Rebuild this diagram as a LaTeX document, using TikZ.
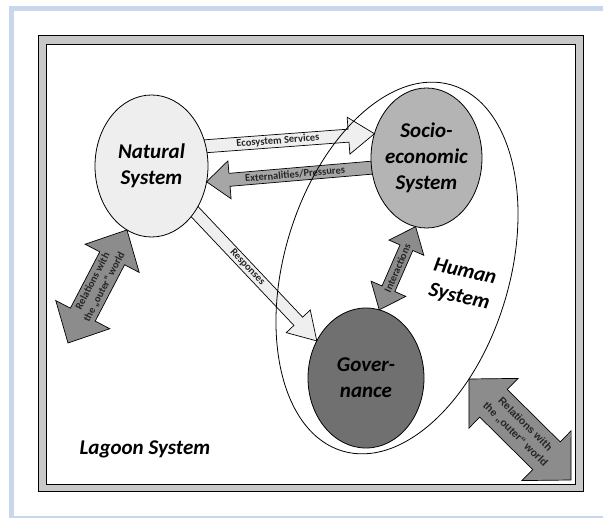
\documentclass[tikz,border=0pt]{standalone}
\usepackage{fontspec}
\setmainfont{Carlito}
\newfontfamily\arialfam{Liberation Sans}
\usepackage{tikz}
\usetikzlibrary{shapes.geometric}
\usetikzlibrary{calc}
\usepackage{xcolor}

\definecolor{pageblue}{HTML}{C8D6EE}
\definecolor{framegray}{HTML}{C8C8C8}
\definecolor{natfill}{HTML}{EEEEEE}
\definecolor{socfill}{HTML}{B4B4B4}
\definecolor{govfill}{HTML}{707070}
\definecolor{lightarr}{HTML}{EFEFEF}
\definecolor{midarr}{HTML}{A6A6A6}
\definecolor{darkarr}{HTML}{8C8C8C}

\pgfdeclarelayer{frame}
\pgfdeclarelayer{arrows}
\pgfsetlayers{frame,arrows,main}

% block arrow: style, tail, tip, body half width, head half width, head length, label options, label
\newcommand{\onewayarrow}[8]{%
	\path #2 coordinate (ta) #3 coordinate (tb);
	\path ($(tb)!#6!(ta)$) coordinate (th);
	\draw[#1] ($(ta)!#4!90:(tb)$) -- ($(th)!#4!-90:(ta)$) -- ($(th)!#5!-90:(ta)$) -- (tb)
		-- ($(th)!#5!90:(ta)$) -- ($(th)!#4!90:(ta)$) -- ($(ta)!#4!-90:(tb)$) -- cycle;
	\path (ta) -- (tb) node[sloped,#7] {#8};
}
% block arrow with two heads
\newcommand{\twowayarrow}[8]{%
	\path #2 coordinate (ta) #3 coordinate (tb);
	\path ($(ta)!#6!(tb)$) coordinate (ha) ($(tb)!#6!(ta)$) coordinate (hb);
	\draw[#1] (ta) -- ($(ha)!#5!-90:(tb)$) -- ($(ha)!#4!-90:(tb)$) -- ($(hb)!#4!90:(ta)$)
		-- ($(hb)!#5!90:(ta)$) -- (tb) -- ($(hb)!#5!-90:(ta)$) -- ($(hb)!#4!-90:(ta)$)
		-- ($(ha)!#4!90:(tb)$) -- ($(ha)!#5!90:(tb)$) -- cycle;
	\path (ta) -- (tb) node[sloped,#7] {#8};
}

\begin{document}
\begin{tikzpicture}[x=1pt,y=-1pt,
	sys/.style={ellipse,draw,line width=0.8pt,inner sep=0pt,outer sep=0pt},
	systxt/.style={font=\bfseries\itshape\fontsize{21}{26}\selectfont,align=center,text=black},
	arrtxt/.style={font=\bfseries\fontsize{10.5}{12}\selectfont,text=black!85,inner sep=0pt,align=center},
	blk/.style={draw,line width=0.7pt,line join=miter}]
	\useasboundingbox (0,0) rectangle (603,518);

	% page and frame
	\begin{pgfonlayer}{frame}
	\fill[pageblue] (9,6) rectangle (603,11);
	\fill[pageblue] (9,6) rectangle (14,518);
	\fill[pageblue] (9,516.5) rectangle (603,518);
	\draw[fill=framegray,line width=0.8pt] (38,35) rectangle (583,491);
	\draw[fill=white,line width=0.8pt] (46,44) rectangle (575,484);
	\end{pgfonlayer}

	% human system
	\draw[line width=0.8pt,rotate around={-16.6:(397,268)}] (397,268) ellipse [x radius=112.7, y radius=191];
	\node[systxt,rotate=-13] (hum) at (462,285) {Human\\System};

	% subsystems
	\node[sys,fill=natfill,minimum width=113pt,minimum height=142pt,
		label={[systxt]center:{Natural\\System}}] (nat) at (151.5,166) {};
	\node[sys,fill=socfill,minimum width=111pt,minimum height=140pt,
		label={[systxt]center:{Socio-\\economic\\System}}] (soc) at (426.5,158) {};
	\node[sys,fill=govfill,minimum width=116pt,minimum height=140pt,
		label={[systxt]center:{Gover-\\nance}}] (gov) at (366,378) {};

	\node[systxt,anchor=west] (lag) at (76,449) {Lagoon System};

	% flows
	\begin{pgfonlayer}{arrows}
	\onewayarrow{blk,fill=lightarr}{($(nat.20)!-10pt!(soc.155)$)}{(soc.155)}{6.5pt}{18.5pt}{26pt}{arrtxt,pos=0.46}{Ecosystem Services}
	\onewayarrow{blk,fill=midarr}{($(soc.190)!-12pt!(nat.-16)$)}{(nat.-16)}{6.5pt}{19pt}{23pt}{arrtxt,pos=0.5}{Externalities/Pressures}
	\onewayarrow{blk,fill=lightarr}{(nat.center)}{(gov.143)}{6pt}{16.5pt}{27pt}{arrtxt,pos=0.58}{Responses}
	\twowayarrow{blk,fill=darkarr}{(gov.79)}{(soc.261)}{7pt}{19pt}{23pt}{arrtxt,pos=0.5}{Interactions}
	\coordinate (outl) at (68,343);
	\twowayarrow{blk,fill=darkarr}{(outl)}{(nat.249)}{14pt}{30.5pt}{32pt}{arrtxt,pos=0.52,font=\fontsize{10.5}{13}\selectfont\bfseries}{Relations with\\the „outer“ world}
	\end{pgfonlayer}

	\coordinate (outa) at (469,379);
	\coordinate (outb) at (571,480);
	\twowayarrow{blk,fill=darkarr}{(outa)}{(outb)}{19.5pt}{35pt}{34.5pt}{arrtxt,pos=0.5,font=\arialfam\bfseries\fontsize{10.5}{14}\selectfont}{Relations with\\the „outer“ world}
\end{tikzpicture}
\end{document}
